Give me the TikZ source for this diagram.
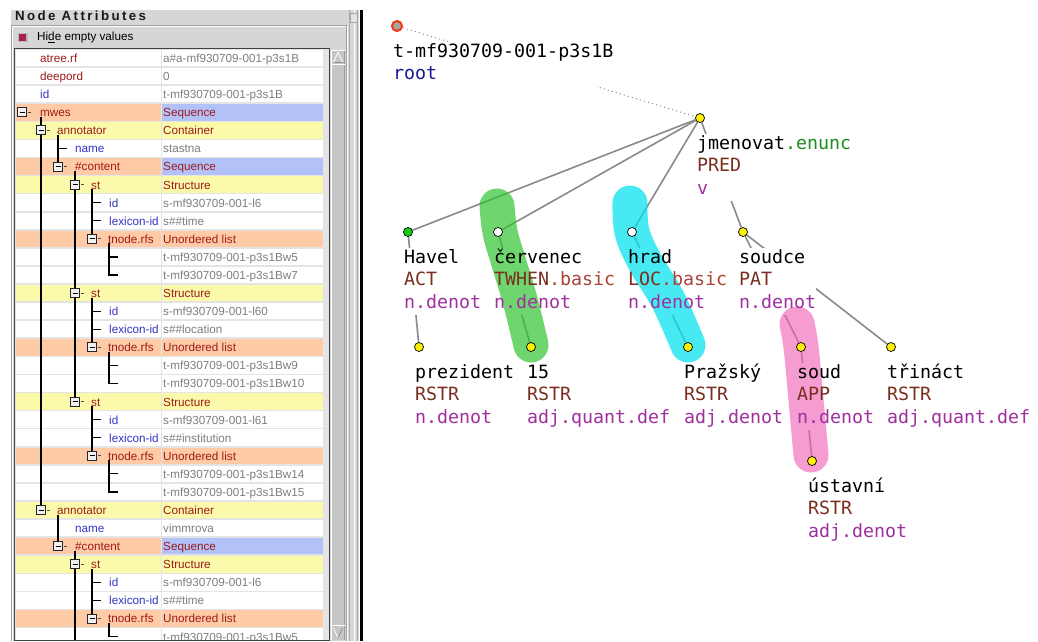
\documentclass[tikz,border=0pt]{standalone}
\usepackage{fontspec}
\setmainfont{Liberation Sans}
\newfontfamily\treefont{DejaVu Sans Mono}
\newfontfamily\ttlfont[LetterSpace=18]{Liberation Sans}
\pgfdeclarelayer{bglayer}
\pgfdeclarelayer{edgelayer}
\pgfdeclarelayer{labellayer}
\pgfdeclarelayer{bloblayer}
\pgfsetlayers{bglayer,edgelayer,labellayer,bloblayer,main}
\definecolor{panelbg}{HTML}{D6D6D6}
\definecolor{gridc}{HTML}{E4E4E4}
\definecolor{peach}{HTML}{FFCBA6}
\definecolor{yel}{HTML}{FAFAAA}
\definecolor{blu}{HTML}{B2C2F8}
\definecolor{kred}{HTML}{9E1A1A}
\definecolor{kblue}{HTML}{3434C4}
\definecolor{vgray}{HTML}{7E7E7E}
\definecolor{cfun}{HTML}{7A2E1E}
\definecolor{cbasic}{HTML}{A8443A}
\definecolor{cpos}{HTML}{A030A0}
\definecolor{cenunc}{HTML}{1E8C1E}
\definecolor{croot}{HTML}{1A1A8C}
\definecolor{edgec}{HTML}{8A8A8A}
\definecolor{blobg}{HTML}{2CC42C}
\definecolor{blobc}{HTML}{00E2EE}
\definecolor{blobp}{HTML}{F060B4}
\definecolor{rootring}{HTML}{F03A1A}
\definecolor{leafgreen}{HTML}{10D010}
\definecolor{chk}{HTML}{A8204E}
\newcommand\tfun[1]{\textcolor{cfun}{#1}}
\newcommand\tpos[1]{\textcolor{cpos}{#1}}
\newcommand\tbas[1]{\textcolor{cbasic}{#1}}
\tikzset{
  cellk/.style={font={\fontsize{11.7}{14}\selectfont}, anchor=base west, inner sep=0pt},
  lbl/.style={anchor=north west, inner sep=0pt, outer sep=0pt, align=left,
    font={\treefont\fontsize{18.3}{22.4}\selectfont}},
  tnode/.style={circle, draw=black, line width=0.7pt, minimum size=9pt, inner sep=0pt},
  tedge/.style={draw=edgec, line width=1.6pt},
  rootedge/.style={draw=edgec, line width=0.9pt, dash pattern=on 1.2pt off 3pt},
  blob/.style={line width=35pt, line cap=round, line join=round},
  treeline/.style={line width=1.2pt, black},
  expbox/.style={draw=black!85, fill=gray!12, line width=0.9pt},
}
\begin{document}
\begin{tikzpicture}[x=1pt,y=-1pt]
\useasboundingbox (0,0) rectangle (1038,641);
\begin{pgfonlayer}{bglayer}
\fill[white] (0,0) rectangle (1038,641);
\end{pgfonlayer}
% ---------- left panel ----------
\fill[panelbg] (11,10) rectangle (359,641);
\node[anchor=base west, inner sep=0pt, font={\ttlfont\bfseries\fontsize{13.3}{15}\selectfont}, text=black!90] (title) at (15,20) {Node Attributes};
\draw[gray!75] (11.5,641) -- (11.5,25.5) -- (346.5,25.5) -- (346.5,641);
\draw[white] (12.5,641) -- (12.5,26.5) -- (345.5,26.5);
\draw[white] (347.5,26) -- (347.5,641);
\fill[gray!55] (17.5,32.5) rectangle (27.5,42);
\fill[chk] (19,34) rectangle (26,40.5);
\node[cellk] (hide) at (37,40.5) {Hi\underline{d}e empty values};
% table
\fill[gridc] (14.5,48.5) rectangle (329,640);
\foreach \i/\kx/\k/\kc/\v/\vc/\lb/\rb in {
0/40/atree.rf/kred/a\#a-mf930709-001-p3s1B/vgray/white/white,
1/40/deepord/kred/0/vgray/white/white,
2/40/id/kblue/t-mf930709-001-p3s1B/vgray/white/white,
3/40/mwes/kred/Sequence/kred/peach/blu,
4/57/annotator/kred/Container/kred/yel/yel,
5/75/name/kblue/stastna/vgray/white/white,
6/75/\#content/kred/Sequence/kred/peach/blu,
7/91/st/kred/Structure/kred/yel/yel,
8/109/id/kblue/s-mf930709-001-l6/vgray/white/white,
9/109/lexicon-id/kblue/s\#\#time/vgray/white/white,
10/108/tnode.rfs/kred/Unordered list/kred/peach/peach,
11/40//kred/t-mf930709-001-p3s1Bw5/vgray/white/white,
12/40//kred/t-mf930709-001-p3s1Bw7/vgray/white/white,
13/91/st/kred/Structure/kred/yel/yel,
14/109/id/kblue/s-mf930709-001-l60/vgray/white/white,
15/109/lexicon-id/kblue/s\#\#location/vgray/white/white,
16/108/tnode.rfs/kred/Unordered list/kred/peach/peach,
17/40//kred/t-mf930709-001-p3s1Bw9/vgray/white/white,
18/40//kred/t-mf930709-001-p3s1Bw10/vgray/white/white,
19/91/st/kred/Structure/kred/yel/yel,
20/109/id/kblue/s-mf930709-001-l61/vgray/white/white,
21/109/lexicon-id/kblue/s\#\#institution/vgray/white/white,
22/108/tnode.rfs/kred/Unordered list/kred/peach/peach,
23/40//kred/t-mf930709-001-p3s1Bw14/vgray/white/white,
24/40//kred/t-mf930709-001-p3s1Bw15/vgray/white/white,
25/57/annotator/kred/Container/kred/yel/yel,
26/75/name/kblue/vimmrova/vgray/white/white,
27/75/\#content/kred/Sequence/kred/peach/blu,
28/91/st/kred/Structure/kred/yel/yel,
29/109/id/kblue/s-mf930709-001-l6/vgray/white/white,
30/109/lexicon-id/kblue/s\#\#time/vgray/white/white,
31/108/tnode.rfs/kred/Unordered list/kred/peach/peach}{
  \fill[\lb] (15.5,{49+18.08*\i+0.8}) rectangle (160.5,{49+18.08*(\i+1)-0.8});
  \fill[\rb] (162,{49+18.08*\i+0.8}) rectangle (323,{49+18.08*(\i+1)-0.8});
  \node[cellk, text=\kc] (k\i) at (\kx,{62.5+18.08*\i}) {\k};
  \node[cellk, text=\vc] (v\i) at (163,{62.5+18.08*\i}) {\v};
}
% last, partly hidden row: its text is clipped by the table frame
\fill[white] (15.5,{49+18.08*32+0.8}) rectangle (160.5,639.5);
\fill[white] (162,{49+18.08*32+0.8}) rectangle (323,639.5);
\begin{scope}
\clip (15,{49+18.08*32}) rectangle (324,639.5);
\node[cellk, text=vgray] (v32) at (163,{62.5+18.08*32}) {t-mf930709-001-p3s1Bw5};
\end{scope}
% tree lines of the attribute table
\foreach \lx/\ra/\yb in {41/3/{58.04+18.08*25}, 58/4/{58.04+18.08*6}, 75/6/{58.04+18.08*19},
  92/7/{58.04+18.08*10}, 109/10/{58.04+18.08*12}, 92/13/{58.04+18.08*16}, 109/16/{58.04+18.08*18},
  92/19/{58.04+18.08*22}, 109/22/{58.04+18.08*24}, 58/25/{58.04+18.08*27}, 75/27/639.5,
  92/28/{58.04+18.08*31}, 109/31/{58.04+18.08*32}}{
  \draw[treeline] (\lx,{58.04+18.08*\ra+4.5}) -- (\lx,\yb);
}
\foreach \sx/\sr in {58/5, 92/8, 92/9, 92/14, 92/15, 92/20, 92/21, 92/29, 92/30,
  109/11, 109/12, 109/17, 109/18, 109/23, 109/24, 109/32}{
  \draw[treeline] (\sx-0.6,{58.04+18.08*\sr}) -- (\sx+9,{58.04+18.08*\sr});
}
\foreach \bx/\br in {22/3, 41/4, 41/25, 58/6, 58/27, 75/7, 75/13, 75/19, 75/28, 92/10, 92/16, 92/22, 92/31}{
  \draw[expbox] (\bx-4.5,{58.04+18.08*\br-4.5}) rectangle (\bx+4.5,{58.04+18.08*\br+4.5});
  \draw[line width=1pt] (\bx-2.5,{58.04+18.08*\br}) -- (\bx+2.5,{58.04+18.08*\br});
  \draw[line width=0.8pt, black!70] (\bx+6,{58.04+18.08*\br}) -- (\bx+8.5,{58.04+18.08*\br});
}
\draw[black!75, line width=1pt] (14.5,640) -- (14.5,48.5) -- (329,48.5) -- (329,640) -- cycle;
% scrollbar
\fill[gray!45] (331,50) rectangle (345,640);
\draw[white] (331.5,640) -- (331.5,50.5) -- (344.5,50.5);
\draw[gray!80] (344.5,50.5) -- (344.5,640);
\draw[white, line width=0.8pt] (333.5,62) -- (338,52.5) -- (342.5,62);
\draw[gray!85, line width=0.8pt] (333.5,62) -- (342.5,62);
\draw[white] (331.5,64.5) -- (344.5,64.5);
\draw[white] (331.5,625.5) -- (344.5,625.5);
\draw[white, line width=0.8pt] (333.5,628) -- (338,638);
\draw[gray!85, line width=0.8pt] (338,638) -- (342.5,628);
% right strip
\draw[gray!65] (349.5,10) -- (349.5,641);
\draw[white] (354.5,10) -- (354.5,641);
\draw[gray!65] (357.5,10) -- (357.5,641);
\fill[gray!22] (350,13) rectangle (358,23);
\draw[gray!70] (350.5,13.5) rectangle (357.5,22.5);
\fill[black] (359.8,10) rectangle (362.8,641);
% ---------- dependency tree ----------
\node[tnode, draw=rootring, line width=2pt, fill=gray!70, minimum size=10pt] (root) at (397,26) {};
\node[tnode, fill=yellow] (jm) at (700,118) {};
\node[tnode, fill=leafgreen] (havel) at (408,232) {};
\node[tnode, fill=white] (cerv) at (498,232) {};
\node[tnode, fill=white] (hrad) at (632,232) {};
\node[tnode, fill=yellow] (soudce) at (743,232) {};
\node[tnode, fill=yellow] (prez) at (419,347) {};
\node[tnode, fill=yellow] (n15) at (531,347) {};
\node[tnode, fill=yellow] (prazsky) at (688,347) {};
\node[tnode, fill=yellow] (soud) at (801,347) {};
\node[tnode, fill=yellow] (trinact) at (891,347) {};
\node[tnode, fill=yellow] (ustavni) at (812,461) {};
% labels (text on top)
\node[lbl] (rootL) at (393,41.8) {\strut t-mf930709-001-p3s1B\\\strut\textcolor{croot}{root}};
\node[lbl] (jmL) at (697,133.8) {\strut jmenovat\textcolor{cenunc}{.enunc}\\\strut\tfun{PRED}\\\strut\tpos{v}};
\node[lbl] (havelL) at (404,247.8) {\strut Havel\\\strut\tfun{ACT}\\\strut\tpos{n.denot}};
\node[lbl] (cervL) at (494,247.8) {\strut červenec\\\strut\tfun{TWHEN}\tbas{.basic}\\\strut\tpos{n.denot}};
\node[lbl] (hradL) at (628,247.8) {\strut hrad\\\strut\tfun{LOC}\tbas{.basic}\\\strut\tpos{n.denot}};
\node[lbl] (soudceL) at (739,247.8) {\strut soudce\\\strut\tfun{PAT}\\\strut\tpos{n.denot}};
\node[lbl] (prezL) at (415,362.8) {\strut prezident\\\strut\tfun{RSTR}\\\strut\tpos{n.denot}};
\node[lbl] (n15L) at (527,362.8) {\strut 15\\\strut\tfun{RSTR}\\\strut\tpos{adj.quant.def}};
\node[lbl] (prazL) at (684,362.8) {\strut Pražský\\\strut\tfun{RSTR}\\\strut\tpos{adj.denot}};
\node[lbl] (soudL) at (797,362.8) {\strut soud\\\strut\tfun{APP}\\\strut\tpos{n.denot}};
\node[lbl] (trinL) at (887,362.8) {\strut třináct\\\strut\tfun{RSTR}\\\strut\tpos{adj.quant.def}};
\node[lbl] (ustL) at (808,476.8) {\strut ústavní\\\strut\tfun{RSTR}\\\strut\tpos{adj.denot}};
\begin{pgfonlayer}{edgelayer}
\draw[rootedge] (root) -- (jm);
\draw[tedge] (jm) -- (havel);
\draw[tedge] (jm) -- (cerv);
\draw[tedge] (jm) -- (hrad);
\draw[tedge] (jm) -- (soudce);
\draw[tedge] (havel) -- (prez);
\draw[tedge] (cerv) -- (n15);
\draw[tedge] (hrad) -- (prazsky);
\draw[tedge] (soudce) -- (soud);
\draw[tedge] (soudce) -- (trinact);
\draw[tedge] (soud) -- (ustavni);
\end{pgfonlayer}
\begin{pgfonlayer}{labellayer}
\foreach \L in {rootL, jmL, havelL, cervL, hradL, soudceL, prezL, n15L, prazL, soudL, trinL, ustL}{
  \fill[white] (\L.north west) rectangle (\L.south east);
}
\end{pgfonlayer}
\begin{pgfonlayer}{bloblayer}
\draw[blob, draw=blobg, draw opacity=0.68] plot[smooth, tension=0.6] coordinates {(497,206) (500,232) (508,260) (520,300) (531,345)};
\draw[blob, draw=blobc, draw opacity=0.72] plot[smooth, tension=0.6] coordinates {(630,203) (632,232) (645,262) (668,300) (688,345)};
\draw[blob, draw=blobp, draw opacity=0.62] plot[smooth, tension=0.6] coordinates {(797,324) (801,347) (806,400) (811,455)};
\end{pgfonlayer}
\end{tikzpicture}
\end{document}
